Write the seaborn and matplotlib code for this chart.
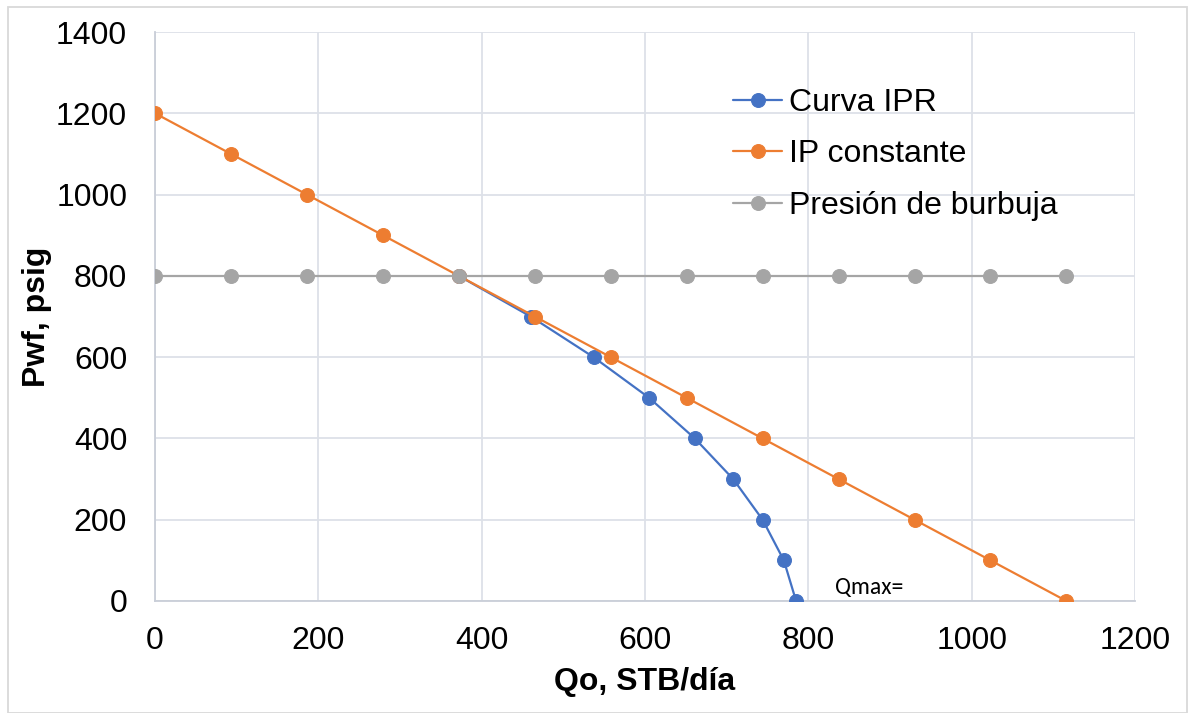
import matplotlib
matplotlib.use("Agg")
import matplotlib.pyplot as plt
import seaborn as sns
from matplotlib.patches import Rectangle

# Data
ipr_q = [372, 460, 537, 605, 661, 708, 744, 770, 785]
ipr_p = [800, 700, 600, 500, 400, 300, 200, 100, 0]

ip_q = [0, 93, 186, 279, 372, 465, 558, 651, 744, 837, 930, 1023, 1116]
ip_p = [1200, 1100, 1000, 900, 800, 700, 600, 500, 400, 300, 200, 100, 0]

pb_q = [0, 93, 186, 279, 372, 465, 558, 651, 744, 837, 930, 1023, 1116]
pb_p = [800] * 13

x_ticks = [0, 200, 400, 600, 800, 1000, 1200]
y_ticks = [0, 200, 400, 600, 800, 1000, 1200, 1400]

sns.set_theme(style="white")
plt.rcParams['font.family'] = ['Liberation Sans', 'DejaVu Sans']
plt.rcParams['text.color'] = 'black'
plt.rcParams['axes.labelcolor'] = 'black'

fig = plt.figure(figsize=(11.95, 7.13), dpi=100)
ax = fig.add_axes([155/1195, 1-601/713, 980/1195, 569/713])

BLUE = "#4472C4"
ORANGE = "#ED7D31"
GRAY = "#A5A5A5"

mk = dict(marker="o", markersize=10, linewidth=1.6)
sns.lineplot(x=ipr_q, y=ipr_p, color=BLUE, markeredgecolor=BLUE, label="Curva IPR",
             ax=ax, sort=False, zorder=3, **mk)
sns.lineplot(x=ip_q, y=ip_p, color=ORANGE, markeredgecolor=ORANGE, label="IP constante",
             ax=ax, sort=False, zorder=4, **mk)
sns.lineplot(x=pb_q, y=pb_p, color=GRAY, markeredgecolor=GRAY, label="Presión de burbuja",
             ax=ax, sort=False, zorder=5, **mk)

ax.set_xlim(0, 1200)
ax.set_ylim(0, 1400)
ax.set_xticks(x_ticks)
ax.set_yticks(y_ticks)
ax.set_xticklabels([str(t) for t in x_ticks])
ax.set_yticklabels([str(t) for t in y_ticks])
ax.tick_params(axis="both", length=0, labelsize=23, colors="black")
ax.tick_params(axis="y", pad=20)
ax.tick_params(axis="x", pad=18)

ax.grid(True, color="#DDE1E8", linewidth=1.3)
ax.set_axisbelow(True)
for s in ["top", "right"]:
    ax.spines[s].set_visible(False)
for s in ["left", "bottom"]:
    ax.spines[s].set_color("#C9CED8")
    ax.spines[s].set_linewidth(1.3)

ax.set_xlabel("Qo, STB/día", fontsize=23, fontweight="bold", labelpad=8)
ax.set_ylabel("Pwf, psig", fontsize=23, fontweight="bold", labelpad=3)

leg = ax.legend(loc="upper left", bbox_to_anchor=(720/1195, 1-75/713),
                bbox_transform=fig.transFigure, frameon=False, fontsize=23,
                handlelength=1.55, handletextpad=0.2, labelspacing=0.68,
                borderaxespad=0)
for t in leg.get_texts():
    t.set_color("black")

ax.text(833, 32, "Qmax=", fontsize=17, color="black",
        family=["Carlito", "Liberation Sans", "DejaVu Sans"], va="center", ha="left")

fig.patches.append(Rectangle((8/1195, 0), (1187-8)/1195, 1-7/713, transform=fig.transFigure,
                             fill=False, edgecolor="#D9D9D9", linewidth=1.3))

fig.savefig("out.png", dpi=100, facecolor="white")
